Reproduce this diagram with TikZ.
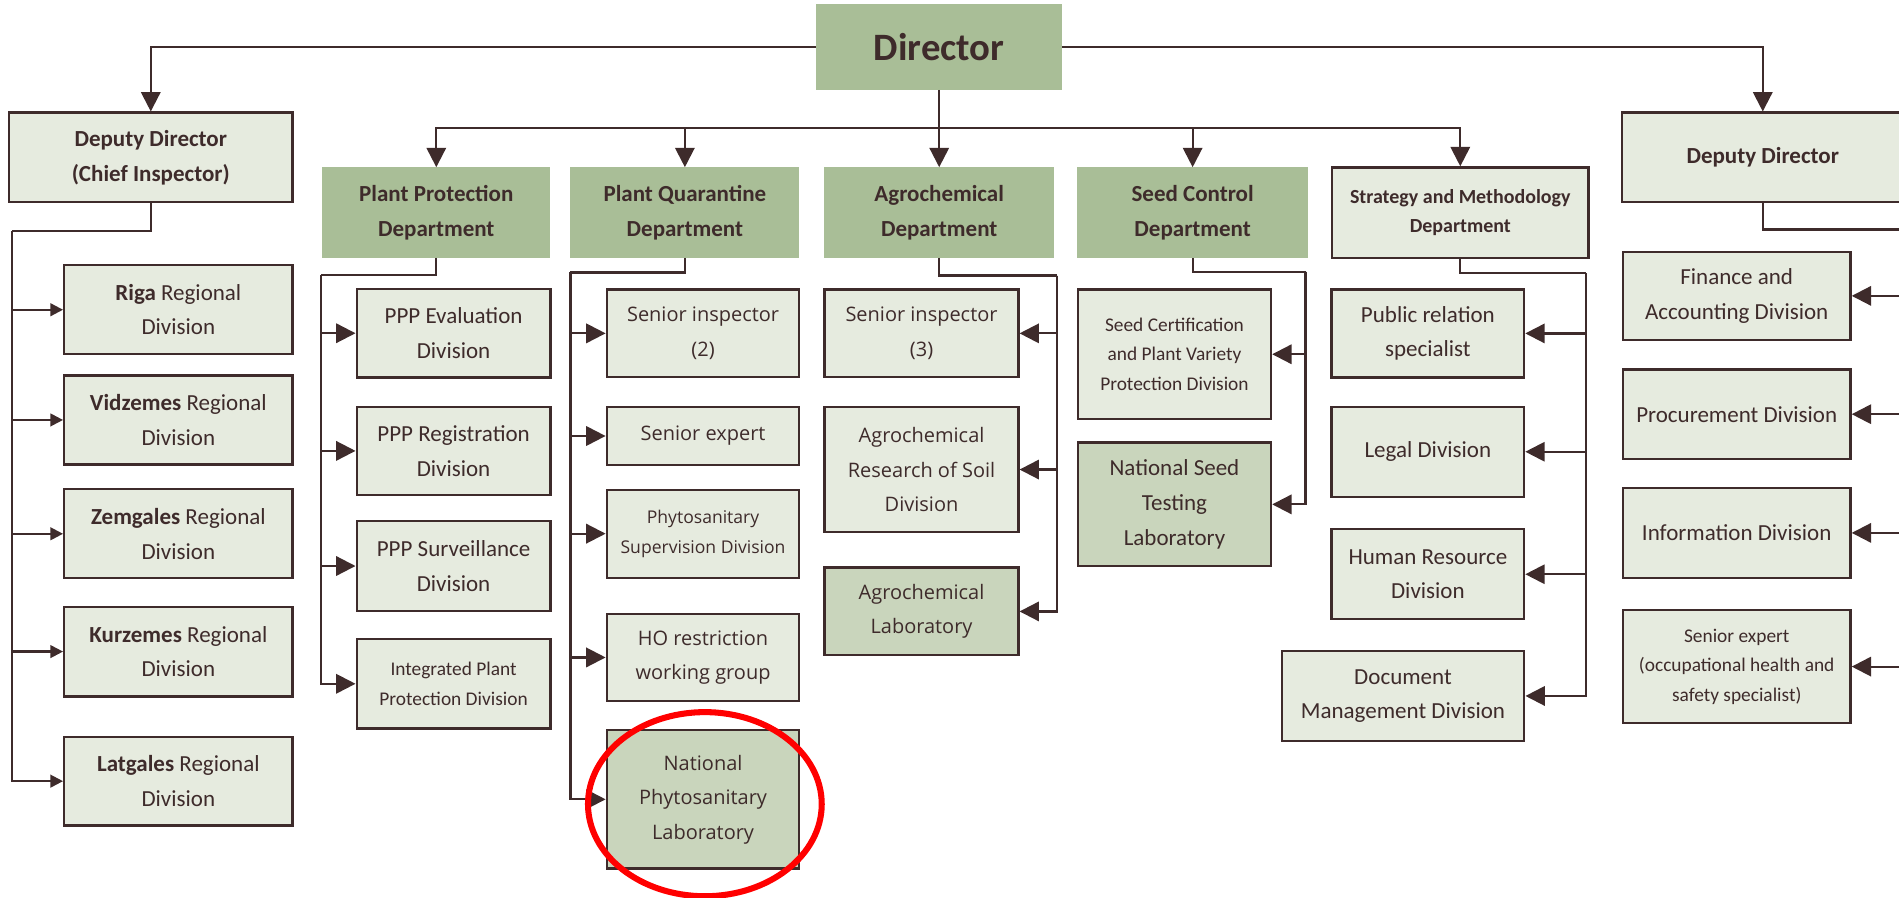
\documentclass[tikz,border=0pt]{standalone}
\usepackage{fontspec}
\setmainfont{Carlito}
\newfontfamily\widefont{Open Sans}
\usepackage{tikz}
\usetikzlibrary{arrows.meta}
\definecolor{ink}{HTML}{3E2B2B}
\definecolor{sage}{HTML}{A9BE97}
\definecolor{pale}{HTML}{E6EBDF}
\definecolor{labgreen}{HTML}{C9D5BC}

\begin{document}
\begin{tikzpicture}[line cap=butt,line join=miter,>={Triangle[length=16pt,width=16pt]},x=1pt,y=-1pt,
 every node/.style={inner sep=0pt,align=center,text=ink},
 dept/.style={fill=sage,font=\bfseries\fontsize{19}{29}\selectfont},
 unit/.style={draw=ink,line width=1.9pt,fill=pale,font=\fontsize{19}{28.5}\selectfont},
 lab/.style={unit,fill=labgreen},
 head/.style={font=\bfseries\fontsize{19}{29}\selectfont},
 small/.style={font=\fontsize{16}{24.5}\selectfont},
 wide/.style={font=\widefont\fontsize{16.5}{28.5}\selectfont},
 wsmall/.style={font=\widefont\fontsize{14.5}{24.5}\selectfont},
 wh/.style 2 args={minimum width=#1,minimum height=#2},
 link/.style={draw=ink,line width=1.8pt},
 reg/.style={link,-{Triangle[length=10.5pt,width=10.5pt]}}]
\useasboundingbox (0,0) rectangle (1568,741);
\clip (0,0) rectangle (1568,741);
% top level
\node[dept,wh={203}{71},font=\bfseries\fontsize{32}{36}\selectfont] (dir) at (775.5,38.5) {Director};
\node[unit,head,wh={234}{74}] (depL) at (124.5,130) {Deputy Director\\(Chief Inspector)};
\node[unit,head,wh={233}{74}] (depR) at (1455.5,130) {Deputy Director};
% departments
\node[dept,wh={188.5}{74.5}] (ppd) at (360.25,175.5) {Plant Protection\\Department};
\node[dept,wh={189}{74.5}] (pqd) at (565.5,175.5) {Plant Quarantine\\Department};
\node[dept,wh={189.5}{74.5}] (agd) at (775.5,175.5) {Agrochemical\\Department};
\node[dept,wh={190.5}{74.5}] (scd) at (984.75,175.5) {Seed Control\\Department};
\node[unit,wh={211.5}{74.5},font=\bfseries\fontsize{16.5}{24}\selectfont] (smd) at (1205.75,175.5) {Strategy and Methodology\\Department};
% regional divisions
\node[unit,wh={188.5}{73.5}] (riga) at (147.25,255.75) {\textbf{Riga} Regional\\Division};
\node[unit,wh={188.5}{73.5}] (vid) at (147.25,346.75) {\textbf{Vidzemes} Regional\\Division};
\node[unit,wh={188.5}{73.5}] (zem) at (147.25,440.75) {\textbf{Zemgales} Regional\\Division};
\node[unit,wh={188.5}{74}] (kur) at (147.25,538) {\textbf{Kurzemes} Regional\\Division};
\node[unit,wh={188.5}{73}] (lat) at (147.25,645) {\textbf{Latgales} Regional\\Division};
% plant protection
\node[unit,wh={160}{73}] (ppe) at (374.5,275.15) {PPP Evaluation\\Division};
\node[unit,wh={160}{72.6}] (ppr) at (374.5,372.3) {PPP Registration\\Division};
\node[unit,wh={160}{74.3}] (pps) at (374.5,467.35) {PPP Surveillance\\Division};
\node[unit,small,wh={160}{73.6}] (ipp) at (374.5,564.6) {Integrated Plant\\Protection Division};
% plant quarantine
\node[unit,wide,wh={159}{72.5}] (si2) at (580.5,275.25) {Senior inspector\\(2)};
\node[unit,wide,wh={159}{48}] (sexp) at (580.5,360) {Senior expert};
\node[unit,wsmall,wh={159}{72.7}] (phs) at (580.5,440.65) {Phytosanitary\\Supervision Division};
\node[unit,wide,wh={159}{72.3}] (ho) at (580.5,542.85) {HO restriction\\working group};
\node[lab,wide,wh={159}{114}] (npl) at (580.5,660) {National\\Phytosanitary\\Laboratory};
% agrochemical
\node[unit,wide,wh={160}{72.5}] (asi3) at (760.9,275.25) {Senior inspector\\(3)};
\node[unit,wide,wh={160}{103.4}] (ars) at (760.9,387.7) {Agrochemical\\Research of Soil\\Division};
\node[lab,wide,wh={160}{72.3}] (alab) at (760.9,504.85) {Agrochemical\\Laboratory};
% seed control
\node[unit,small,wh={159.5}{107}] (scp) at (969.75,292.5) {Seed Certification\\and Plant Variety\\Protection Division};
\node[lab,wh={159.5}{102}] (nst) at (969.75,416.45) {National Seed\\Testing\\Laboratory};
% strategy and methodology
\node[unit,wh={159}{72.6}] (prs) at (1179,275.3) {Public relation\\specialist};
\node[unit,wh={159}{74.3}] (legal) at (1179,373) {Legal Division};
\node[unit,wh={159}{74.3}] (hr) at (1179,474.15) {Human Resource\\Division};
\node[unit,wh={200.3}{74.3}] (doc) at (1158.45,574.65) {Document\\Management Division};
% right deputy
\node[unit,wh={188}{73}] (fin) at (1434,244.3) {Finance and\\Accounting Division};
\node[unit,wh={188}{74}] (proc) at (1434,342) {Procurement Division};
\node[unit,wh={188}{74.3}] (info) at (1434,440) {Information Division};
\node[unit,small,wh={188}{93.6}] (ohs) at (1434,550.4) {Senior expert\\(occupational health and\\safety specialist)};
% bus points
\coordinate (bus) at (775.5,106);
\coordinate (lbus) at (10,191);
\coordinate (ppbus) at (265,227);
\coordinate (pqbus) at (471,225);
\coordinate (agbus) at (873,227.5);
\coordinate (scbus) at (1078,224.3);
\coordinate (smbus) at (1309.5,225.7);
\coordinate (rbus) at (1590,189.5);
% connectors
\draw[link,->] (dir.west) -| (depL.north);
\draw[link,->] (dir.east) -| (depR.north);
\draw[link,->] (dir.south) -- (agd.north);
\draw[link,->] (bus) -| (ppd.north);
\draw[link,->] (bus) -| (pqd.north);
\draw[link,->] (bus) -| (scd.north);
\draw[link,->] (bus) -| (smd.north);
\draw[link] (depL.south) |- (lbus);
\draw[reg] (lbus) |- (riga.west);
\draw[reg] (lbus) |- (vid.west);
\draw[reg] (lbus) |- (zem.west);
\draw[reg] (lbus) |- (kur.west);
\draw[reg] (lbus) |- (lat.west);
\draw[link] (ppd.south) |- (ppbus);
\draw[link,->] (ppbus) |- (ppe.west);
\draw[link,->] (ppbus) |- (ppr.west);
\draw[link,->] (ppbus) |- (pps.west);
\draw[link,->] (ppbus) |- (ipp.west);
\draw[link] (pqd.south) |- (pqbus);
\draw[link,->] (pqbus) |- (si2.west);
\draw[link,->] (pqbus) |- (sexp.west);
\draw[link,->] (pqbus) |- (phs.west);
\draw[link,->] (pqbus) |- (ho.west);
\draw[link,->] (pqbus) |- (npl.west);
\draw[link] (agd.south) |- (agbus);
\draw[link,->] (agbus) |- (asi3.east);
\draw[link,->] (agbus) |- (ars.east);
\draw[link,->] (agbus) |- (alab.east);
\draw[link] (scd.south) |- (scbus);
\draw[link,->] (scbus) |- (scp.east);
\draw[link,->] (scbus) |- (nst.east);
\draw[link] (smd.south) |- (smbus);
\draw[link,->] (smbus) |- (prs.east);
\draw[link,->] (smbus) |- (legal.east);
\draw[link,->] (smbus) |- (hr.east);
\draw[link,->] (smbus) |- (doc.east);
\draw[link] (depR.south) |- (rbus);
\draw[link,->] (rbus) |- (fin.east);
\draw[link,->] (rbus) |- (proc.east);
\draw[link,->] (rbus) |- (info.east);
\draw[link,->] (rbus) |- (ohs.east);
% highlight
\draw[red,line width=5pt] (582,664) ellipse [x radius=96.5pt,y radius=76pt];
\end{tikzpicture}
\end{document}
